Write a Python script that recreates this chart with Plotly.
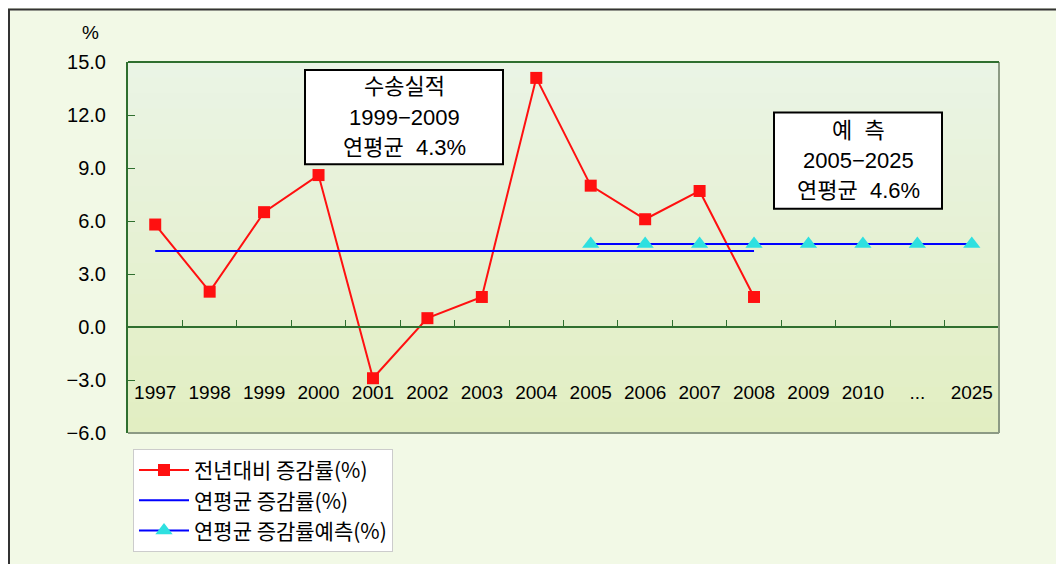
import plotly.graph_objects as go

# categories on the x axis (the "..." slot stands for the skipped years)
years = ['1997', '1998', '1999', '2000', '2001', '2002', '2003', '2004',
         '2005', '2006', '2007', '2008', '2009', '2010', '...', '2025']

# 전년대비 증감률(%)
yoy_years = ['1997', '1998', '1999', '2000', '2001', '2002', '2003', '2004',
             '2005', '2006', '2007', '2008']
yoy_rate = [5.8, 2.0, 6.5, 8.6, -2.9, 0.5, 1.7, 14.1, 8.0, 6.1, 7.7, 1.7]

# 연평균 증감률(%)
avg_years = yoy_years
avg_rate = [4.3] * len(avg_years)

# 연평균 증감률예측(%)
fc_years = ['2005', '2006', '2007', '2008', '2009', '2010', '...', '2025']
fc_rate = [4.7] * len(fc_years)

y_ticks = [15, 12, 9, 6, 3, 0, -3, -6]

FONT = "Liberation Sans, Arial, Noto Sans CJK KR, sans-serif"
KFONT = "Noto Sans CJK KR, sans-serif"
AXIS_GREEN = "#2f6f2f"

# plot area size in px (used to place boxes / labels in paper units)
PW, PH = 871, 374

fig = go.Figure()

fig.add_trace(go.Scatter(
    x=yoy_years, y=yoy_rate,
    mode='lines+markers',
    name='전년대비 증감률(%)',
    line=dict(color='#ff1010', width=2),
    marker=dict(symbol='square', size=12, color='#ff1010')
))

fig.add_trace(go.Scatter(
    x=avg_years, y=avg_rate,
    mode='lines',
    name='연평균 증감률(%)',
    line=dict(color='#0000ff', width=2)
))

fig.add_trace(go.Scatter(
    x=fc_years, y=fc_rate,
    mode='lines+markers',
    name='연평균 증감률예측(%)',
    line=dict(color='#0000ff', width=2),
    marker=dict(symbol='triangle-up', size=15, color='#2ee0e0')
))

# soft vertical gradient behind the plot area
n_bands = 24
top_rgb = (234, 244, 229)
bot_rgb = (226, 238, 194)
for i in range(n_bands):
    t = i / (n_bands - 1)
    r = round(bot_rgb[0] + (top_rgb[0] - bot_rgb[0]) * t)
    g = round(bot_rgb[1] + (top_rgb[1] - bot_rgb[1]) * t)
    b = round(bot_rgb[2] + (top_rgb[2] - bot_rgb[2]) * t)
    fig.add_shape(
        type='rect', xref='paper', yref='paper',
        x0=0, x1=1, y0=i / n_bands, y1=(i + 1) / n_bands + 0.002,
        fillcolor=f'rgb({r},{g},{b})', line_width=0, layer='below'
    )

# plot frame: grey right / bottom, green top
fig.add_shape(type='line', xref='paper', yref='paper', x0=1, x1=1, y0=0, y1=1,
              line=dict(color='#8c9a84', width=2))
fig.add_shape(type='line', xref='paper', yref='paper', x0=0, x1=1, y0=0, y1=0,
              line=dict(color='#8c9a84', width=2))
fig.add_shape(type='line', xref='paper', yref='paper', x0=0, x1=1, y0=1, y1=1,
              line=dict(color=AXIS_GREEN, width=2))

# outer chart frame (only left and top edges show)
fig.add_shape(type='rect', xref='paper', yref='paper',
              x0=-119 / PW, x1=1.2, y0=-0.6, y1=1 + 53 / PH,
              line=dict(color='#333333', width=2), layer='below')


def text_box(lines, cx, cy, w, h, line_gap):
    # white framed box with centred lines of text (pixel sizes -> paper)
    fig.add_shape(type='rect', xref='paper', yref='paper',
                  x0=cx - w / 2 / PW, x1=cx + w / 2 / PW,
                  y0=cy - h / 2 / PH, y1=cy + h / 2 / PH,
                  fillcolor='white', line=dict(color='black', width=2))
    n = len(lines)
    for k, txt in enumerate(lines):
        off = (k - (n - 1) / 2) * line_gap
        fig.add_annotation(xref='paper', yref='paper', x=cx, y=cy - off / PH,
                           xanchor='center', yanchor='middle',
                           text=txt, showarrow=False,
                           font=dict(family=FONT, size=22, color='black'))


text_box(['수송실적', '1999−2009', '연평균  4.3%'],
         (404 - 128) / PW, (436 - 117.5) / PH, 198, 95, 30.5)
text_box(['예  측', '2005−2025', '연평균  4.6%'],
         (858 - 128) / PW, (436 - 161.5) / PH, 168, 97, 30.5)

fig.add_annotation(xref='paper', yref='paper', x=(90 - 128) / PW, y=(436 - 32) / PH,
                   xanchor='center', yanchor='middle',
                   text='%', showarrow=False,
                   font=dict(family=FONT, size=19, color='black'))

# page body has an 8px margin, so the figure is sized to the rest of the window
fig.update_layout(
    width=1056, height=556,
    margin=dict(l=120, r=65, t=54, b=128),
    paper_bgcolor='#f2f9e6',
    plot_bgcolor='#e6f0d4',
    font=dict(family=FONT, color='black'),
    showlegend=True,
    legend=dict(
        x=(133 - 128) / PW, y=(436 - 452) / PH,
        xanchor='left', yanchor='top',
        bgcolor='white', bordercolor='#cccccc', borderwidth=1,
        font=dict(family=KFONT, size=21, color='black'),
        itemwidth=50,
        tracegroupgap=0
    ),
    xaxis=dict(
        type='category',
        categoryorder='array', categoryarray=years,
        tickvals=years,
        range=[-0.5, len(years) - 0.5],
        anchor='free', position=6 / 21,
        showline=True, linecolor=AXIS_GREEN, linewidth=2,
        ticks='inside', ticklen=6, tickcolor=AXIS_GREEN, tickson='boundaries',
        ticklabelstandoff=48,
        tickfont=dict(family=FONT, size=19, color='black'),
        showgrid=False, zeroline=False
    ),
    yaxis=dict(
        range=[-6, 15],
        tickvals=y_ticks,
        tickformat='.1f',
        showline=True, linecolor=AXIS_GREEN, linewidth=2,
        ticks='inside', ticklen=7, tickcolor=AXIS_GREEN,
        ticklabelstandoff=16,
        tickfont=dict(family=FONT, size=20, color='black'),
        showgrid=False, zeroline=False
    )
)

fig.write_html("out.html")
